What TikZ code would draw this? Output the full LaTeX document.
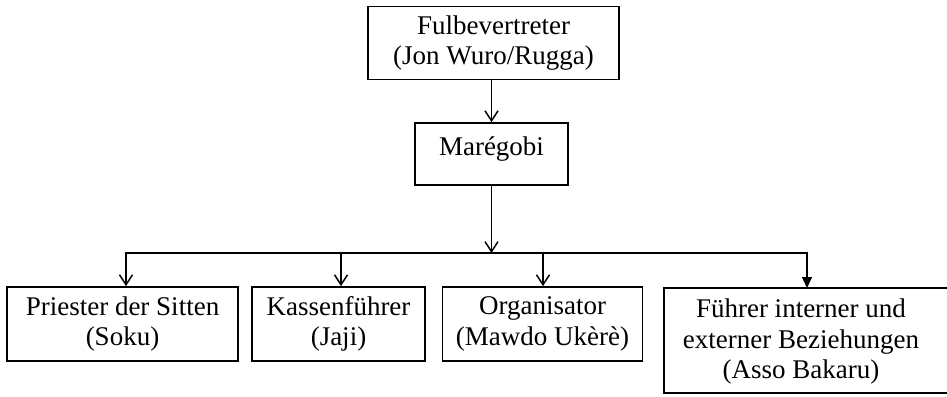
\documentclass[tikz,border=0pt]{standalone}
\usepackage{fontspec}
\setmainfont{Liberation Serif}
\usetikzlibrary{arrows.meta}

\tikzset{
  box/.style={draw, line width=1.7pt, inner sep=0pt, align=center,
              font=\fontsize{27}{30.5}\selectfont},
  label txt/.style={inner sep=0pt, align=center,
              font=\fontsize{27}{30.5}\selectfont},
  frame/.style={line width=1.7pt},
  arr/.style={line width=1.5pt, -{Straight Barb[length=10pt,width=13pt,line width=1.5pt]}},
  arrT/.style={line width=1.5pt, -{Triangle[length=11pt,width=10pt]}},
}

\begin{document}
\begin{tikzpicture}[x=1pt, y=-1pt]
  \useasboundingbox (0,0) rectangle (947,396);
  \clip (0,0) rectangle (947,396);

  % hierarchy: representative -> Maregobi -> four offices
  \node[box, minimum width=251pt, minimum height=73pt] (top) at (493.5,43)
    {Fulbevertreter\\(Jon Wuro/Rugga)};
  \node[box, minimum width=153pt, minimum height=62pt,
        text height=17pt, text depth=15pt] (mare) at (491.5,154) {Marégobi};

  \node[box, minimum width=231pt, minimum height=74pt] (priest) at (122.5,324)
    {Priester der Sitten\\(Soku)};
  \node[box, minimum width=173pt, minimum height=74pt] (kasse) at (338.5,324)
    {Kassenführer\\(Jaji)};
  \node[box, minimum width=200pt, minimum height=74pt] (orga) at (542.5,324)
    {Organisator\\(Mawdo Ukèrè)};

  % last office: frame runs off the right edge
  \node[label txt] (fuehrer) at (801,342)
    {Führer interner und\\externer Beziehungen\\(Asso Bakaru)};
  \coordinate (fTR) at (960,288);
  \coordinate (fTL) at (664,288);
  \coordinate (fBL) at (664,393);
  \coordinate (fBR) at (960,393);
  \coordinate (fIn) at (807,288);
  \draw[frame] (fTR) -- (fTL) -- (fBL) -- (fBR);

  % connectors
  \coordinate (bus) at (491.5,253);
  \draw[arr] ([xshift=-2pt]top.south) -- (mare);
  \draw[arr] (mare) -- (bus);
  \draw[arr] (bus) -| ([xshift=3.5pt]priest.north);
  \draw[arr] (bus) -| ([xshift=2.5pt]kasse.north);
  \draw[arr] (bus) -| ([xshift=0.5pt]orga.north);
  \draw[arrT] (bus) -| (fIn);
\end{tikzpicture}
\end{document}
